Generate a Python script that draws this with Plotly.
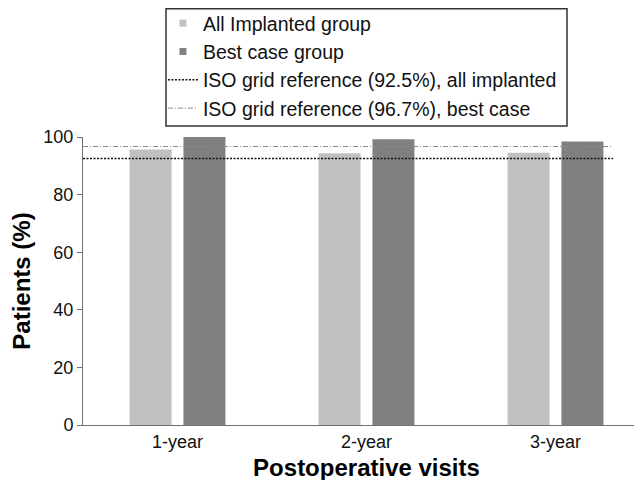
import plotly.graph_objects as go

categories = ["1-year", "2-year", "3-year"]
all_implanted = [95.7, 94.4, 94.5]
best_case = [100.0, 99.2, 98.4]
iso_all = 92.5
iso_best = 96.7
y_ticks = [0, 20, 40, 60, 80, 100]

FONT = "Liberation Sans, Arial, sans-serif"
LIGHT = "#c0c0c0"
DARK = "#808080"

fig = go.Figure()
fig.add_trace(go.Bar(x=categories, y=all_implanted, name="All Implanted group",
                     showlegend=False, marker=dict(color=LIGHT, line=dict(width=0))))
fig.add_trace(go.Bar(x=categories, y=best_case, name="Best case group",
                     showlegend=False, marker=dict(color=DARK, line=dict(width=0))))
# legend proxies with small square symbols
fig.add_trace(go.Scatter(x=[None], y=[None], mode="markers", name="All Implanted group",
                         marker=dict(symbol="square", size=7, color=LIGHT)))
fig.add_trace(go.Scatter(x=[None], y=[None], mode="markers", name="Best case group",
                         marker=dict(symbol="square", size=7, color=DARK)))
fig.add_trace(go.Scatter(x=[0, 0.935], y=[iso_all, iso_all], mode="lines",
                         xaxis="x2", name="ISO grid reference (92.5%), all implanted",
                         line=dict(color="#111111", width=1.5, dash="2px,1.5px")))
fig.add_trace(go.Scatter(x=[0, 0.935], y=[iso_best, iso_best], mode="lines",
                         xaxis="x2", name="ISO grid reference (96.7%), best case",
                         line=dict(color="#8a8a8a", width=1, dash="5px,2px,1px,2px")))

# legend frame (drawn as a shape so its padding matches the reference)
fig.add_shape(type="rect", xref="paper", yref="paper",
              x0=0.1464, x1=0.8536, y0=1.038, y1=1.445,
              line=dict(color="#333333", width=1.5), fillcolor="rgba(0,0,0,0)",
              layer="above")

fig.update_layout(
    width=642, height=480,
    margin=dict(l=75, r=0, t=129, b=63, autoexpand=False),
    paper_bgcolor="white", plot_bgcolor="white",
    font=dict(family=FONT, size=18, color="#111111"),
    barmode="group", bargap=0.43, bargroupgap=0.22,
    showlegend=True,
    legend=dict(x=0.141, y=1.462, xanchor="left", yanchor="top",
                borderwidth=0, bgcolor="rgba(0,0,0,0)",
                font=dict(size=19.5, family=FONT, color="#111111"),
                itemwidth=30, tracegroupgap=0, traceorder="normal"),
    xaxis=dict(type="category", range=[-0.5, 2.5], showline=True, linecolor="#707070",
               linewidth=1, ticks="", showgrid=False, zeroline=False,
               tickfont=dict(size=18, family=FONT, color="#111111"),
               title=dict(text="<b>Postoperative visits</b>", standoff=8,
                          font=dict(size=24, family=FONT, color="#000000"))),
    xaxis2=dict(overlaying="x", range=[0, 1], visible=False),
    yaxis=dict(range=[0, 100], tickvals=y_ticks, showline=True, linecolor="#707070",
               linewidth=1, ticks="outside", ticklen=5, tickcolor="#707070",
               showgrid=False, zeroline=False,
               tickfont=dict(size=18, family=FONT, color="#111111"),
               title=dict(text="<b>Patients (%)</b>", standoff=10,
                          font=dict(size=24, family=FONT, color="#000000"))),
)

fig.write_html("out.html")
